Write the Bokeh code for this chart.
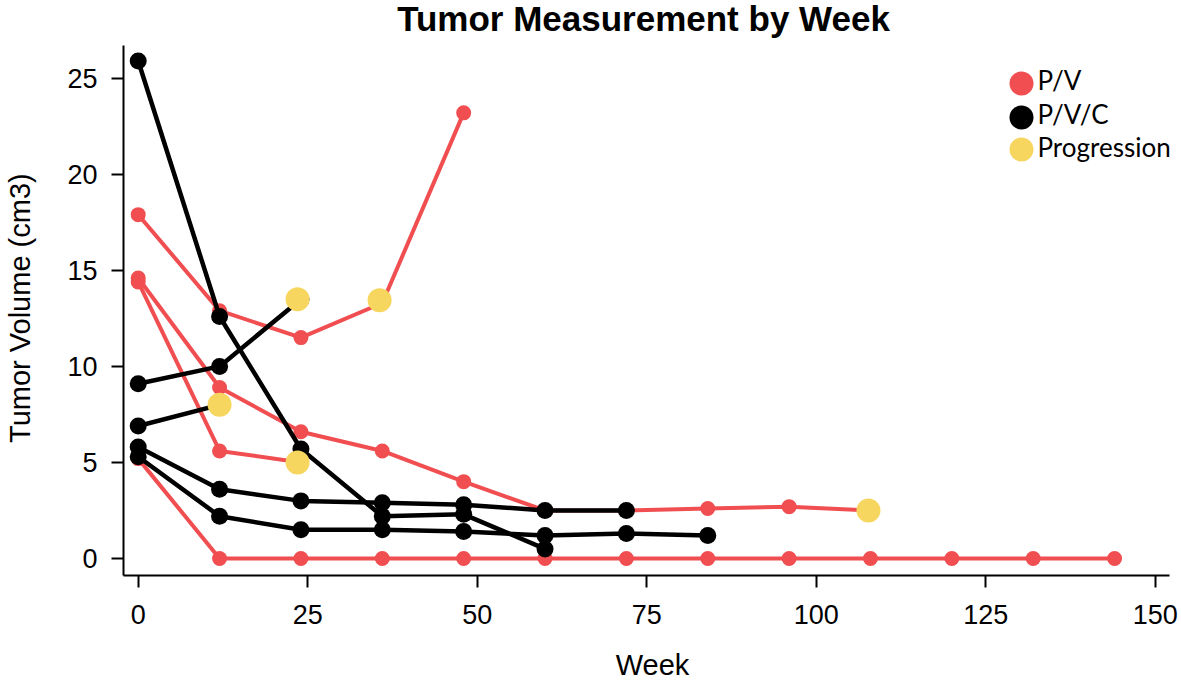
import math
from bokeh.plotting import figure
from bokeh.models import ColumnDataSource, Range1d, FixedTicker, Legend, LegendItem, Label
from bokeh.embed import file_html
from bokeh.resources import INLINE

# ---- data ----
pv_weeks = [
    [0, 12, 24, 36, 48],
    [0, 12, 24, 36, 48, 60, 72, 84, 96, 108],
    [0, 12, 24],
    [0, 12, 24, 36, 48, 60, 72, 84, 96, 108, 120, 132, 144],
]
pv_volume = [
    [17.9, 12.9, 11.5, 13.3, 23.2],
    [14.6, 8.9, 6.6, 5.6, 4.0, 2.5, 2.5, 2.6, 2.7, 2.5],
    [14.4, 5.6, 5.0],
    [5.2, 0, 0, 0, 0, 0, 0, 0, 0, 0, 0, 0, 0],
]
pvc_weeks = [
    [0, 12, 24, 36, 48, 60],
    [0, 12, 24],
    [0, 12],
    [0, 12, 24, 36, 48, 60, 72],
    [0, 12, 24, 36, 48, 60, 72, 84],
]
pvc_volume = [
    [25.9, 12.6, 5.7, 2.2, 2.3, 0.5],
    [9.1, 10.0, 13.5],
    [6.9, 8.0],
    [5.8, 3.6, 3.0, 2.9, 2.8, 2.5, 2.5],
    [5.3, 2.2, 1.5, 1.5, 1.4, 1.2, 1.3, 1.2],
]
prog_weeks = [12, 23.5, 23.5, 35.6, 107.7]
prog_volume = [8.0, 13.5, 5.0, 13.45, 2.5]

x_ticks = [0, 25, 50, 75, 100, 125, 150]
y_ticks = [0, 5, 10, 15, 20, 25]
x_axis_bounds = (-2.17, 152.1)
y_axis_bounds = (-0.885, 26.7)

title_text = "Tumor Measurement by Week"
x_label = "Week"
y_label = "Tumor Volume (cm3)"
legend_labels = ["P/V", "P/V/C", "Progression"]

RED = "#F04E50"
BLACK = "#000000"
YELLOW = "#F7D660"

p = figure(frame_width=1058, frame_height=575, output_backend="svg", toolbar_location=None,
           x_range=Range1d(-2.17, 153.87), y_range=Range1d(-0.885, 29.05),
           min_border_left=123, min_border_right=0, min_border_top=0, min_border_bottom=107)
p.outline_line_color = None
p.xgrid.visible = False
p.ygrid.visible = False
p.background_fill_color = "white"
p.border_fill_color = "white"

for ax, ticks, bnds in ((p.xaxis[0], x_ticks, x_axis_bounds), (p.yaxis[0], y_ticks, y_axis_bounds)):
    ax.ticker = FixedTicker(ticks=ticks)
    ax.bounds = bnds
    ax.minor_tick_line_color = None
    ax.major_tick_in = 0
    ax.major_tick_out = 12
    ax.major_tick_line_width = 2
    ax.axis_line_width = 2
    ax.axis_line_color = "black"
    ax.major_tick_line_color = "black"
    ax.major_label_text_font = "Liberation Sans"
    ax.major_label_text_font_size = "27px"
    ax.major_label_text_color = "black"
    ax.axis_label_text_font = "Liberation Sans"
    ax.axis_label_text_font_size = "29px"
    ax.axis_label_text_font_style = "normal"
    ax.axis_label_text_color = "black"

p.xaxis.axis_label = x_label
# trailing no-break spaces keep the rotated label centred on the axis line rather than the frame
p.yaxis.axis_label = y_label + "\u00a0" * 5
p.xaxis.major_label_standoff = 17
p.xaxis.axis_label_standoff = 22
p.yaxis.major_label_standoff = 14
p.yaxis.axis_label_standoff = 28

# red series (P/V)
red_scatter = None
for wk, vol in zip(pv_weeks, pv_volume):
    src = ColumnDataSource(dict(week=wk, vol=vol))
    p.line("week", "vol", source=src, line_color=RED, line_width=4)
    r = p.scatter("week", "vol", source=src, size=15, fill_color=RED, line_color=None)
    red_scatter = red_scatter or r

# black series (P/V/C)
black_scatter = None
for wk, vol in zip(pvc_weeks, pvc_volume):
    src = ColumnDataSource(dict(week=wk, vol=vol))
    p.line("week", "vol", source=src, line_color=BLACK, line_width=4.5)
    r = p.scatter("week", "vol", source=src, size=17, fill_color=BLACK, line_color=None)
    black_scatter = black_scatter or r

# progression markers
psrc = ColumnDataSource(dict(week=prog_weeks, vol=prog_volume))
yellow_scatter = p.scatter("week", "vol", source=psrc, size=24, fill_color=YELLOW, line_color=None)

# legend: one marker box per entry, text as labels
leg_rend = [red_scatter, black_scatter, yellow_scatter]
leg_bottom = [462, 428, 396]
leg_text_y = [496, 461.5, 429]
for rend, vy, ty, lab in zip(leg_rend, leg_bottom, leg_text_y, legend_labels):
    lg = Legend(items=[LegendItem(label="", renderers=[rend], index=0)],
                location=(868, vy), glyph_width=60, glyph_height=60,
                label_standoff=0, padding=0, margin=0, spacing=0,
                border_line_color=None, background_fill_alpha=0)
    p.add_layout(lg, "center")
    p.add_layout(Label(x=914, y=ty, x_units="screen", y_units="screen", text=lab,
                       text_align="left", text_baseline="middle",
                       text_font="Lato", text_font_size="26px", text_color="black"))

# title (inside the extended frame, above the axis bounds)
p.add_layout(Label(x=520, y=557, x_units="screen", y_units="screen", text=title_text,
                   text_align="center", text_baseline="alphabetic",
                   text_font="Liberation Sans", text_font_style="bold",
                   text_font_size="35px", text_color="black"))

open("out.html", "w").write(file_html(p, INLINE))
